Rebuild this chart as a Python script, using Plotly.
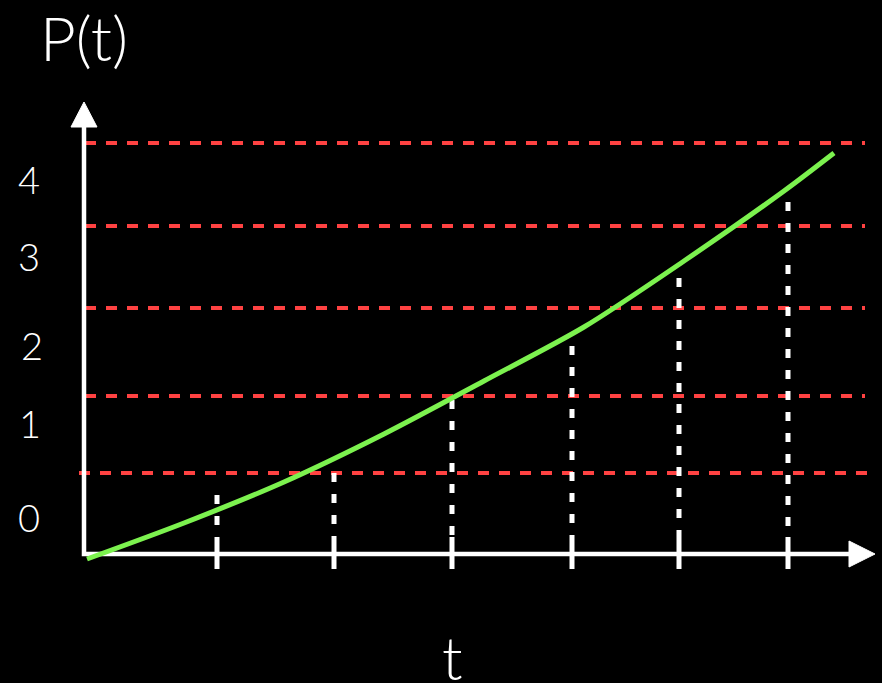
import plotly.graph_objects as go

# curve P(t) (units: 1 = 100 px)
curve_t = [0.03, 1.0, 2.0, 3.0, 4.0, 5.0, 6.0, 7.0, 7.50]
curve_p = [-0.05, 0.31, 0.72, 1.20, 1.73, 2.27, 2.93, 3.63, 4.01]

# red dashed levels
level_p = [0.81, 1.58, 2.46, 3.28, 4.11]
level_start = [-0.05, 0.01, 0.01, 0.01, 0.01]
level_end = [7.86, 7.81, 7.81, 7.81, 7.81]

# white dashed verticals / ticks on the t axis
tick_t = [1.33, 2.50, 3.68, 4.88, 5.95, 7.04]
tick_top = [0.59, 0.81, 1.54, 2.08, 2.76, 3.52]

# y labels
ylabel_text = ["0", "1", "2", "3", "4"]
ylabel_p = [0.37, 1.31, 2.09, 2.98, 3.75]
ylabel_t = [-0.555, -0.54, -0.525, -0.55, -0.555]

RED = "#FF4242"
GREEN = "#7CF24F"
WHITE = "#FFFFFF"
FONT = "Lato"

fig = go.Figure()

for p, x0, x1 in zip(level_p, level_start, level_end):
    fig.add_trace(go.Scatter(x=[x0, x1], y=[p, p], mode="lines",
                             line=dict(color=RED, width=4, dash="11px,10px"),
                             hoverinfo="skip"))

for t, top in zip(tick_t, tick_top):
    # dashed vertical drawn from the top down
    fig.add_trace(go.Scatter(x=[t, t], y=[top, 0.17], mode="lines",
                             line=dict(color=WHITE, width=5, dash="9px,12px"),
                             hoverinfo="skip"))
    # solid tick through the axis
    fig.add_trace(go.Scatter(x=[t, t], y=[0.17, -0.15], mode="lines",
                             line=dict(color=WHITE, width=5),
                             hoverinfo="skip"))

# axes
fig.add_trace(go.Scatter(x=[0, 0, 7.7], y=[4.3, 0, 0], mode="lines",
                         line=dict(color=WHITE, width=4.5), hoverinfo="skip"))
# arrow heads
fig.add_trace(go.Scatter(x=[-0.13, 0.13, 0, -0.13], y=[4.27, 4.27, 4.52, 4.27],
                         mode="lines", fill="toself", fillcolor=WHITE,
                         line=dict(color=WHITE, width=1), hoverinfo="skip"))
fig.add_trace(go.Scatter(x=[7.65, 7.65, 7.91, 7.65], y=[0.13, -0.13, 0, 0.13],
                         mode="lines", fill="toself", fillcolor=WHITE,
                         line=dict(color=WHITE, width=1), hoverinfo="skip"))

# curve
fig.add_trace(go.Scatter(x=curve_t, y=curve_p, mode="lines",
                         line=dict(color=GREEN, width=5, shape="spline", smoothing=0.8),
                         hoverinfo="skip"))

for txt, p, t in zip(ylabel_text, ylabel_p, ylabel_t):
    fig.add_annotation(x=t, y=p, text=txt, showarrow=False,
                       font=dict(family=FONT, size=38, color=WHITE, weight=300))

fig.add_annotation(x=0.0, y=5.17, text="P(t)", showarrow=False,
                   font=dict(family=FONT, size=62, color=WHITE, weight=300))
fig.add_annotation(x=3.68, y=-1.03, text="t", showarrow=False,
                   font=dict(family=FONT, size=60, color=WHITE, weight=300))

fig.update_layout(
    width=882, height=683,
    paper_bgcolor="black", plot_bgcolor="black",
    showlegend=False,
    margin=dict(l=0, r=0, t=0, b=0),
    xaxis=dict(range=[-0.84, 7.98], showgrid=False, zeroline=False,
               showticklabels=False, fixedrange=True),
    yaxis=dict(range=[-1.29, 5.54], showgrid=False, zeroline=False,
               showticklabels=False, fixedrange=True),
)

fig.write_html("out.html", config={"displayModeBar": False},
               post_script="document.body.style.margin='0';"
                           "document.body.style.background='black';")
